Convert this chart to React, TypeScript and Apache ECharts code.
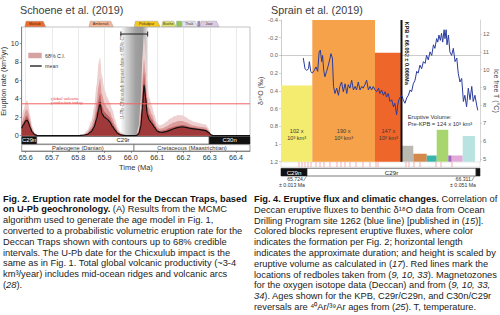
import React, { useEffect, useRef } from "react";
import * as echarts from "echarts";

const FONT = "'Liberation Sans', Arial, Helvetica, sans-serif";

// ---------------- Schoene et al. (2019) ----------------
const schoeneTime = [65.585, 65.592, 65.6, 65.605, 65.61, 65.617, 65.625, 65.635, 65.645, 65.66, 65.8, 65.82, 65.835, 65.85, 65.86, 65.87, 65.877, 65.883, 65.89, 65.9, 65.91, 65.92, 65.93, 65.94, 65.95, 65.96, 65.975, 65.99, 66.02, 66.03, 66.038, 66.044, 66.05, 66.056, 66.062, 66.07, 66.08, 66.09, 66.1, 66.11, 66.12, 66.135, 66.15, 66.165, 66.18, 66.195, 66.21, 66.225, 66.24, 66.255, 66.27, 66.285, 66.295, 66.305, 66.315, 66.33, 66.453];
const meanRate = [0.8, 1.2, 1.6, 1.7, 1.5, 0.9, 0.4, 0.1, 0.02, 0, 0, 0.05, 0.15, 0.45, 0.9, 1.8, 2.8, 3.6, 2.4, 2.0, 1.8, 1.5, 1.0, 0.6, 0.25, 0.1, 0.03, 0, 0, 0.2, 1.0, 3.0, 5.5, 4.2, 2.3, 1.7, 1.3, 0.9, 0.5, 0.38, 0.37, 0.45, 0.6, 0.78, 0.9, 0.95, 0.9, 0.8, 0.74, 0.68, 0.62, 0.55, 0.35, 0.08, 0, 0, 0];
const innerUpper = [1.0, 1.5, 2.0, 2.2, 1.9, 1.2, 0.5, 0.14, 0.02, 0, 0, 0.07, 0.22, 0.7, 1.3, 2.6, 3.8, 4.6, 3.2, 2.6, 2.3, 2.0, 1.4, 0.85, 0.38, 0.15, 0.05, 0, 0.01, 0.35, 1.6, 4.2, 6.8, 5.3, 3.1, 2.3, 1.75, 1.2, 0.7, 0.52, 0.55, 0.68, 0.85, 1.0, 1.1, 1.15, 1.08, 0.95, 0.88, 0.8, 0.75, 0.68, 0.45, 0.1, 0, 0, 0];
const midUpper = [1.3, 2.0, 2.7, 2.9, 2.5, 1.6, 0.7, 0.2, 0.03, 0, 0, 0.1, 0.35, 1.0, 1.9, 3.6, 5.3, 6.2, 4.5, 3.5, 3.0, 2.6, 1.9, 1.2, 0.55, 0.25, 0.08, 0.01, 0.02, 0.6, 2.5, 6.0, 8.3, 6.8, 4.2, 3.0, 2.3, 1.6, 0.95, 0.75, 0.8, 1.0, 1.25, 1.45, 1.6, 1.6, 1.45, 1.25, 1.1, 1.0, 0.95, 0.88, 0.6, 0.14, 0.01, 0, 0];
const outerUpper = [1.8, 2.8, 3.6, 3.85, 3.4, 2.2, 1.0, 0.3, 0.05, 0, 0, 0.2, 0.6, 1.6, 3.0, 5.5, 7.8, 8.5, 6.5, 5.0, 4.2, 3.6, 2.8, 1.8, 0.9, 0.4, 0.15, 0.02, 0.05, 1.0, 4.0, 8.5, 10.8, 9.0, 6.0, 4.2, 3.2, 2.2, 1.4, 1.1, 1.2, 1.5, 1.85, 2.1, 2.25, 2.2, 2.0, 1.7, 1.5, 1.4, 1.3, 1.2, 0.8, 0.2, 0.02, 0, 0];
const schoeneTicks = [65.6, 65.7, 65.8, 65.9, 66.0, 66.1, 66.2, 66.3, 66.4];
const rateTicks = [0, 2, 4, 6, 8, 10];
const schoeneMin = 65.585;
const schoeneMax = 66.453;
const rateMax = 11.76;
const globalVolcanicRate = 3.45;
const impactDate = 66.013;
const impactCI = 0.051;
const impactBarLevel = 11.0;
const chronNamesA = ["C29n", "C29r", "C30n"];
const chronStartA = [65.585, 65.642, 66.298];
const chronEndA = [65.642, 66.298, 66.453];
const periodNames = ["Paleogene (Danian)", "Cretaceous (Maastrichtian)"];
const periodStart = [65.585, 66.012];
const periodEnd = [66.012, 66.453];
const formationNames = ["Mahab", "Ambenali", "Poladpur", "Bushe", "", "Thak", "", "Jaw"];
const formationStart = [65.597, 65.841, 66.013, 66.117, 66.174, 66.193, 66.254, 66.263];
const formationEnd = [65.676, 65.933, 66.111, 66.172, 66.193, 66.254, 66.263, 66.335];
const formationColors = ["#ee6b2c", "#f6b595", "#f5c81e", "#dce36a", "#8cc653", "#e6e2ea", "#a585c0", "#dccbe4"];

// ---------------- Sprain et al. (2019) ----------------
const sprainMin = 65.6336;
const sprainMax = 66.3246;
const d18OTime = [65.711, 65.717, 65.723, 65.729, 65.732, 65.737, 65.742, 65.749, 65.755, 65.761, 65.766, 65.770, 65.775, 65.778, 65.782, 65.786, 65.792, 65.798, 65.804, 65.807, 65.812, 65.816, 65.821, 65.827, 65.833, 65.838, 65.844, 65.850, 65.856, 65.862, 65.867, 65.873, 65.879, 65.885, 65.891, 65.896, 65.902, 65.908, 65.914, 65.919, 65.925, 65.931, 65.937, 65.943, 65.948, 65.954, 65.960, 65.966, 65.972, 65.977, 65.983, 65.989, 65.995, 66.000, 66.006, 66.012, 66.018, 66.024, 66.029, 66.035, 66.039, 66.043, 66.048, 66.053, 66.058, 66.064, 66.070, 66.076, 66.082, 66.087, 66.093, 66.099, 66.105, 66.110, 66.116, 66.122, 66.128, 66.134, 66.139, 66.145, 66.151, 66.157, 66.163, 66.168, 66.174, 66.178, 66.182, 66.187, 66.191, 66.195, 66.200, 66.203, 66.207, 66.210, 66.215, 66.220, 66.226, 66.232, 66.238, 66.244, 66.249, 66.255, 66.261, 66.267, 66.272, 66.278, 66.284, 66.290, 66.296, 66.301, 66.307, 66.313, 66.317];
const d18OValue = [0.03, 0.15, 0.17, 0.15, 0.07, 0.18, 0.20, 0.17, 0.13, 0.18, -0.04, -0.06, 0.07, 0.00, 0.17, 0.24, 0.18, 0.11, 0.03, -0.02, 0.03, 0.35, 0.43, 0.37, 0.45, 0.35, 0.30, 0.41, 0.32, 0.43, 0.33, 0.37, 0.28, 0.39, 0.35, 0.39, 0.30, 0.39, 0.35, 0.37, 0.33, 0.28, 0.39, 0.35, 0.39, 0.35, 0.39, 0.41, 0.37, 0.43, 0.39, 0.45, 0.41, 0.47, 0.43, 0.52, 0.50, 0.58, 0.54, 0.67, 0.56, 0.50, 0.47, 0.45, 0.50, 0.54, 0.48, 0.45, 0.39, 0.41, 0.32, 0.28, 0.18, 0.20, 0.11, 0.15, 0.07, 0.09, 0.00, 0.05, -0.04, 0.00, -0.12, -0.08, -0.19, -0.15, -0.23, -0.17, -0.25, -0.15, -0.29, -0.19, -0.29, -0.12, -0.23, -0.04, 0.00, -0.08, 0.07, 0.03, 0.20, 0.30, 0.26, 0.52, 0.45, 0.58, 0.37, 0.50, 0.35, 0.52, 0.45, 0.56, 0.62];
const d18OMin = -0.4;
const d18OMax = 1.2;
const tempMin = 4.85;
const tempMax = 12.78;
const tempTicks = [5, 6, 7, 8, 9, 10, 11, 12];
const blockStart = [65.6336, 65.7423, 65.960, 66.0527, 66.093, 66.1395, 66.1742, 66.2145, 66.2263, 66.2645];
const blockEnd = [65.7423, 65.960, 66.0527, 66.093, 66.1395, 66.1742, 66.2145, 66.2263, 66.2645, 66.3072];
const blockTop = [0.34, -0.4, -0.03, 1.02, 1.11, 1.13, 0.84, 1.13, 1.13, 0.91];
const blockColors = ["#f3ec6e", "#f6a24a", "#ee6629", "#b9b9b1", "#d4894b", "#3bb2aa", "#a8d56e", "#9c66be", "#e2a9d9", "#b8e3e1"];
const blockLabels = ["102 x\n10³ km³", "190 x\n10³ km³", "147 x\n10³ km³", "", "", "", "", "", "", ""];
const blockLabelLevel = 0.89;
const kpbAge = 66.052;
const redboleAge = [65.6961, 65.7065, 65.7169, 65.7274, 65.7378, 65.7551, 65.769, 65.7829, 65.8037, 65.828, 65.8419, 65.8558, 65.8732, 65.894, 65.9183, 65.9426, 65.9635, 65.9704, 66.0676, 66.078, 66.0954, 66.1162, 66.1718, 66.1892, 66.2274];
const chronNamesB = ["C29n", "C29r", "C30n"];
const chronStartB = [65.6336, 65.724, 66.311];
const chronEndB = [65.724, 66.311, 66.3246];

const captionLeft = [
  "{b|Fig. 2. Eruption rate model for the Deccan Traps, based}",
  "{b|on U-Pb geochronology.} (A) Results from the MCMC",
  "algorithm used to generate the age model in Fig. 1,",
  "converted to a probabilistic volumetric eruption rate for the",
  "Deccan Traps shown with contours up to 68% credible",
  "intervals. The U-Pb date for the Chicxulub impact is the",
  "same as in Fig. 1. Total global volcanic productivity (~3-4",
  "km³/year) includes mid-ocean ridges and volcanic arcs",
  "({i|28}).",
];
const captionRight = [
  "{b|Fig. 4. Eruptive flux and climatic changes.} Correlation of",
  "Deccan eruptive fluxes to benthic δ¹⁸O data from Ocean",
  "Drilling Program site 1262 (blue line) [published in ({i|15})].",
  "Colored blocks represent eruptive fluxes, where color",
  "indicates the formation per Fig. 2; horizontal length",
  "indicates the approximate duration; and height is scaled by",
  "eruptive volume as calculated in ({i|17}). Red lines mark the",
  "locations of redboles taken from ({i|9, 10, 33}). Magnetozones",
  "for the oxygen isotope data (Deccan) and from ({i|9, 10, 33,}",
  "{i|34}). Ages shown for the KPB, C29r/C29n, and C30n/C29r",
  "reversals are ⁴⁰Ar/³⁹Ar ages from ({i|25}). T, temperature.",
];

function pairs(xs: number[], ys: number[]) {
  return xs.map((x, i) => [x, ys[i]]);
}

function captionText(lines: string[], x: number, y: number) {
  const base = { fontFamily: FONT, fontSize: 9.3, lineHeight: 10.8, fill: "#222" };
  return {
    type: "text",
    x,
    y,
    silent: true,
    style: {
      text: lines.join("\n"),
      ...base,
      textAlign: "left",
      textVerticalAlign: "top",
      rich: {
        b: { ...base, fontWeight: "bold", fill: "#111" },
        i: { ...base, fontStyle: "italic" },
      },
    },
  };
}

function txt(text: string, x: number, y: number, size: number, extra: any = {}) {
  const { rotation, ...styleExtra } = extra;
  return {
    type: "text",
    x,
    y,
    rotation: rotation || 0,
    silent: true,
    style: {
      text,
      fontFamily: FONT,
      fontSize: size,
      fill: "#333",
      textAlign: "left",
      textVerticalAlign: "middle",
      ...styleExtra,
    },
  };
}

function buildOption(): any {
  const hiddenX = (gridIndex: number, min: number, max: number) => ({
    type: "value", gridIndex, min, max,
    axisLine: { show: false }, axisTick: { show: false }, axisLabel: { show: false }, splitLine: { show: false },
  });
  const hiddenY = (gridIndex: number) => ({
    type: "value", gridIndex, min: 0, max: 1,
    axisLine: { show: false }, axisTick: { show: false }, axisLabel: { show: false }, splitLine: { show: false },
  });

  const grayGradient = new echarts.graphic.LinearGradient(0, 0, 1, 0, [
    { offset: 0, color: "rgba(235,235,235,0.4)" },
    { offset: 0.2, color: "rgba(200,200,200,0.8)" },
    { offset: 0.55, color: "rgba(150,150,150,0.9)" },
    { offset: 0.8, color: "rgba(140,140,140,0.9)" },
    { offset: 1, color: "rgba(200,200,200,0.6)" },
  ]);

  const areaSeries = (name: string, data: number[], color: string, z: number) => ({
    name, type: "line", xAxisIndex: 0, yAxisIndex: 0,
    data: pairs(schoeneTime, data), smooth: 0.25, smoothMonotone: "x",
    symbol: "none", lineStyle: { width: 0 }, areaStyle: { color, opacity: 1 }, z, silent: true,
  });

  return {
    animation: false,
    backgroundColor: "#ffffff",
    textStyle: { fontFamily: FONT },
    grid: [
      { left: 21.7, top: 27, width: 228.3, height: 108.7, show: true, borderColor: "#9a9a9a", borderWidth: 0.6, backgroundColor: "#fff", outerBoundsMode: "none" },
      { left: 21.7, top: 136.5, width: 228.3, height: 7.6, outerBoundsMode: "none" },
      { left: 21.7, top: 144.6, width: 228.3, height: 6.4, outerBoundsMode: "none" },
      { left: 281, top: 20, width: 199, height: 141.7, outerBoundsMode: "none" },
      { left: 281, top: 162, width: 199, height: 5, show: true, borderColor: "#cfcfcf", borderWidth: 0.5, outerBoundsMode: "none" },
      { left: 281, top: 168.3, width: 199, height: 7.7, outerBoundsMode: "none" },
    ],
    xAxis: [
      {
        type: "value", gridIndex: 0, min: schoeneMin, max: schoeneMax,
        axisLine: { show: false },
        axisTick: { show: false, customValues: schoeneTicks },
        axisLabel: { show: false, customValues: schoeneTicks },
        splitLine: { show: true, lineStyle: { color: "#dddddd", width: 0.6 } },
      },
      hiddenX(1, schoeneMin, schoeneMax),
      {
        type: "value", gridIndex: 2, min: schoeneMin, max: schoeneMax,
        axisLine: { show: true, lineStyle: { color: "#555", width: 0.6 } },
        axisTick: { show: true, length: 2, customValues: schoeneTicks, lineStyle: { color: "#555", width: 0.6 } },
        axisLabel: { show: true, customValues: schoeneTicks, fontSize: 7.2, color: "#333", margin: 3, fontFamily: FONT, formatter: (v: number) => v.toFixed(1) },
        splitLine: { show: false },
        name: "Time (Ma)", nameLocation: "middle", nameGap: 12,
        nameTextStyle: { fontSize: 7.5, color: "#333", fontFamily: FONT },
      },
      {
        type: "value", gridIndex: 3, min: sprainMin, max: sprainMax,
        axisLine: { show: true, lineStyle: { color: "#aaa", width: 0.6 } },
        axisTick: { show: false }, axisLabel: { show: false }, splitLine: { show: false },
      },
      hiddenX(4, sprainMin, sprainMax),
      hiddenX(5, sprainMin, sprainMax),
    ],
    yAxis: [
      {
        type: "value", gridIndex: 0, min: 0, max: rateMax,
        axisLine: { show: true, lineStyle: { color: "#555", width: 0.6 } },
        axisTick: { show: true, length: 2, customValues: rateTicks, lineStyle: { color: "#555", width: 0.6 } },
        axisLabel: { show: true, customValues: rateTicks, fontSize: 7.2, color: "#333", margin: 3, fontFamily: FONT },
        splitLine: { show: false },
        name: "Eruption rate (km³/yr)", nameLocation: "middle", nameRotate: 90, nameGap: 10,
        nameTextStyle: { fontSize: 7.3, color: "#333", fontFamily: FONT },
      },
      hiddenY(1),
      hiddenY(2),
      {
        type: "value", gridIndex: 3, min: d18OMin, max: d18OMax, interval: 0.2, inverse: true, position: "left",
        axisLine: { show: true, lineStyle: { color: "#aaa", width: 0.6 } },
        axisTick: { show: true, length: 2, inside: false, lineStyle: { color: "#aaa", width: 0.5 } },
        axisLabel: {
          show: true, fontSize: 5.8, color: "#666", margin: 3, fontFamily: FONT,
          formatter: (v: number) => { const r = Math.round(v * 10) / 10; return r === 1 ? "1" : r.toFixed(1); },
        },
        splitLine: { show: false },
        name: "δ¹⁸O (‰)", nameLocation: "middle", nameRotate: 90, nameGap: 17,
        nameTextStyle: { fontSize: 7, color: "#444", fontFamily: FONT },
      },
      {
        type: "value", gridIndex: 3, min: tempMin, max: tempMax, position: "right",
        axisLine: { show: true, lineStyle: { color: "#bbb", width: 0.6 } },
        axisTick: { show: true, length: 2, customValues: tempTicks, lineStyle: { color: "#bbb", width: 0.5 } },
        axisLabel: { show: true, customValues: tempTicks, fontSize: 5.8, color: "#666", margin: 3, fontFamily: FONT },
        splitLine: { show: false },
        name: "Ice free T (°C)", nameLocation: "middle", nameRotate: -90, nameGap: 11,
        nameTextStyle: { fontSize: 7, color: "#444", fontFamily: FONT },
      },
      hiddenY(4),
      hiddenY(5),
    ],
    series: [
      // Chicxulub impact date band
      {
        type: "custom", xAxisIndex: 0, yAxisIndex: 0, z: 1, silent: true,
        data: [[impactDate - impactCI, impactDate + impactCI, 0]],
        encode: { x: [0, 1], y: 2 },
        renderItem: (params: any, api: any) => {
          const cs = params.coordSys;
          const x0 = api.coord([impactDate - impactCI, 0])[0];
          const x1 = api.coord([impactDate + impactCI, 0])[0];
          return { type: "rect", shape: { x: x0, y: cs.y, width: x1 - x0, height: cs.height }, style: { fill: grayGradient } };
        },
      },
      areaSeries("outer", outerUpper, "#efd0d0", 2),
      areaSeries("mid", midUpper, "#dc9c9c", 3),
      areaSeries("inner", innerUpper, "#c06262", 4),
      {
        name: "mean", type: "line", xAxisIndex: 0, yAxisIndex: 0, z: 5, silent: true,
        data: pairs(schoeneTime, meanRate), smooth: 0.25, smoothMonotone: "x", symbol: "none",
        lineStyle: { color: "#111", width: 1.2 }, areaStyle: { color: "#a03a3a", opacity: 1 },
      },
      {
        name: "global", type: "line", xAxisIndex: 0, yAxisIndex: 0, z: 8, silent: true,
        data: [[schoeneMin, globalVolcanicRate], [schoeneMax, globalVolcanicRate]],
        symbol: "none", lineStyle: { color: "#f26262", width: 1 },
      },
      // error bar of the impact date
      {
        type: "custom", xAxisIndex: 0, yAxisIndex: 0, z: 9, silent: true,
        data: [[impactDate - impactCI, impactDate + impactCI, impactBarLevel]],
        encode: { x: [0, 1], y: 2 },
        renderItem: (params: any, api: any) => {
          const a = api.coord([impactDate - impactCI, impactBarLevel]);
          const b = api.coord([impactDate + impactCI, impactBarLevel]);
          const ls = { stroke: "#222", lineWidth: 1 };
          return {
            type: "group", children: [
              { type: "line", shape: { x1: a[0], y1: a[1], x2: b[0], y2: b[1] }, style: ls },
              { type: "line", shape: { x1: a[0], y1: a[1] - 2.5, x2: a[0], y2: a[1] + 2.5 }, style: ls },
              { type: "line", shape: { x1: b[0], y1: b[1] - 2.5, x2: b[0], y2: b[1] + 2.5 }, style: ls },
            ],
          };
        },
      },
      // formation tabs above the plot
      {
        type: "custom", xAxisIndex: 0, yAxisIndex: 0, z: 9, silent: true, clip: false,
        data: formationStart.map((s, i) => [s, formationEnd[i], 0]),
        encode: { x: [0, 1], y: 2 },
        renderItem: (params: any, api: any) => {
          const i = params.dataIndex;
          const cs = params.coordSys;
          const x0 = api.coord([formationStart[i], 0])[0];
          const x1 = api.coord([formationEnd[i], 0])[0];
          const yb = cs.y - 0.3;
          const yt = cs.y - 5.8;
          const named = formationNames[i] !== "";
          const pts = named
            ? [[x0, yb], [x0 + 1.2, yt], [x1 - 2.5, yt], [x1, yb]]
            : [[x0, yb], [x0, yt], [x1, yt], [x1, yb]];
          const children: any[] = [
            { type: "polygon", shape: { points: pts }, style: { fill: formationColors[i], stroke: "#8a8a8a", lineWidth: 0.4 } },
          ];
          if (named) {
            children.push({
              type: "text", x: (x0 + x1) / 2 - 0.5, y: (yb + yt) / 2,
              style: { text: formationNames[i], fill: "#4a3020", fontSize: 3.8, fontFamily: FONT, textAlign: "center", textVerticalAlign: "middle" },
            });
          }
          return { type: "group", children };
        },
      },
      // magnetochrons (Schoene)
      {
        type: "custom", xAxisIndex: 1, yAxisIndex: 1, silent: true,
        data: chronStartA.map((s, i) => [s, chronEndA[i], 0.5]),
        encode: { x: [0, 1], y: 2 },
        renderItem: (params: any, api: any) => {
          const i = params.dataIndex;
          const cs = params.coordSys;
          const x0 = api.coord([chronStartA[i], 0])[0];
          const x1 = api.coord([chronEndA[i], 0])[0];
          const dark = chronNamesA[i].endsWith("n");
          return {
            type: "group", children: [
              { type: "rect", shape: { x: x0, y: cs.y, width: x1 - x0, height: cs.height }, style: { fill: dark ? "#111" : "#fff", stroke: "#222", lineWidth: 0.6 } },
              { type: "text", x: (x0 + x1) / 2, y: cs.y + cs.height / 2, style: { text: chronNamesA[i], fill: dark ? "#fff" : "#222", fontSize: 6, fontFamily: FONT, textAlign: "center", textVerticalAlign: "middle" } },
            ],
          };
        },
      },
      // periods (Schoene)
      {
        type: "custom", xAxisIndex: 2, yAxisIndex: 2, silent: true,
        data: periodStart.map((s, i) => [s, periodEnd[i], 0.5]),
        encode: { x: [0, 1], y: 2 },
        renderItem: (params: any, api: any) => {
          const i = params.dataIndex;
          const cs = params.coordSys;
          const x0 = api.coord([periodStart[i], 0])[0];
          const x1 = api.coord([periodEnd[i], 0])[0];
          return {
            type: "group", children: [
              { type: "rect", shape: { x: x0, y: cs.y, width: x1 - x0, height: cs.height }, style: { fill: "#fff", stroke: "#555", lineWidth: 0.6 } },
              { type: "text", x: (x0 + x1) / 2, y: cs.y + cs.height / 2, style: { text: periodNames[i], fill: "#333", fontSize: 5.8, fontFamily: FONT, textAlign: "center", textVerticalAlign: "middle" } },
            ],
          };
        },
      },
      // eruptive flux blocks (Sprain)
      {
        type: "custom", xAxisIndex: 3, yAxisIndex: 3, z: 1, silent: true,
        data: blockStart.map((s, i) => [s, blockEnd[i], blockTop[i]]),
        encode: { x: [0, 1], y: 2 },
        renderItem: (params: any, api: any) => {
          const i = params.dataIndex;
          const a = api.coord([blockStart[i], blockTop[i]]);
          const b = api.coord([blockEnd[i], d18OMax]);
          const children: any[] = [
            { type: "rect", shape: { x: a[0], y: Math.min(a[1], b[1]), width: b[0] - a[0], height: Math.abs(b[1] - a[1]) }, style: { fill: blockColors[i] } },
          ];
          if (blockLabels[i]) {
            const c = api.coord([(blockStart[i] + blockEnd[i]) / 2, blockLabelLevel]);
            children.push({
              type: "text", x: c[0], y: c[1],
              style: { text: blockLabels[i], fill: "#3a3a3a", fontSize: 5.6, lineHeight: 7, fontFamily: FONT, textAlign: "center", textVerticalAlign: "middle" },
            });
          }
          return { type: "group", children };
        },
      },
      {
        name: "KPB", type: "line", xAxisIndex: 3, yAxisIndex: 3, z: 3, silent: true,
        data: [[kpbAge, d18OMin], [kpbAge, d18OMax]], symbol: "none",
        lineStyle: { color: "#111", width: 2 },
      },
      {
        name: "d18O", type: "line", xAxisIndex: 3, yAxisIndex: 3, z: 4, silent: true,
        data: pairs(d18OTime, d18OValue), symbol: "none",
        lineStyle: { color: "#2b3c9c", width: 1 },
      },
      // redboles
      {
        type: "custom", xAxisIndex: 4, yAxisIndex: 5, silent: true,
        data: redboleAge.map((a) => [a, 0.5]),
        encode: { x: 0, y: 1 },
        renderItem: (params: any, api: any) => {
          const cs = params.coordSys;
          const x = api.coord([redboleAge[params.dataIndex], 0])[0];
          return { type: "line", shape: { x1: x, y1: cs.y, x2: x, y2: cs.y + cs.height }, style: { stroke: "#ee7b7b", lineWidth: 0.6 } };
        },
      },
      // magnetochrons (Sprain)
      {
        type: "custom", xAxisIndex: 5, yAxisIndex: 6, silent: true,
        data: chronStartB.map((s, i) => [s, chronEndB[i], 0.5]),
        encode: { x: [0, 1], y: 2 },
        renderItem: (params: any, api: any) => {
          const i = params.dataIndex;
          const cs = params.coordSys;
          const x0 = api.coord([chronStartB[i], 0])[0];
          const x1 = api.coord([chronEndB[i], 0])[0];
          const dark = chronNamesB[i].endsWith("n");
          const children: any[] = [
            { type: "rect", shape: { x: x0, y: cs.y, width: x1 - x0, height: cs.height }, style: { fill: dark ? "#111" : "#fff", stroke: "#222", lineWidth: 0.6 } },
          ];
          if (x1 - x0 > 15) {
            children.push({ type: "text", x: (x0 + x1) / 2, y: cs.y + cs.height / 2, style: { text: chronNamesB[i], fill: dark ? "#fff" : "#222", fontSize: 6.2, fontFamily: FONT, textAlign: "center", textVerticalAlign: "middle" } });
          }
          return { type: "group", children };
        },
      },
    ],
    graphic: [
      txt("Schoene et al. (2019)", 20, 9.5, 10.8, { fill: "#3d3d3d" }),
      txt("Sprain et al. (2019)", 271, 9.5, 10.8, { fill: "#3d3d3d" }),
      // legend
      { type: "rect", shape: { x: 28.3, y: 52.7, width: 13.4, height: 5.6 }, style: { fill: "#d7a2a2" }, silent: true },
      txt("68% C.I.", 45, 55.5, 5.3),
      { type: "line", shape: { x1: 30, y1: 66, x2: 41.7, y2: 66 }, style: { stroke: "#111", lineWidth: 1.3 }, silent: true },
      txt("mean", 45, 66, 5.3),
      txt("U-Pb Chicxulub impact date ± 95% C.I.", 121.8, 76, 5, { rotation: Math.PI / 2, textAlign: "center", fill: "#222" }),
      txt("global volcanic", 51, 98, 4.3, { fill: "#e84646" }),
      txt("production today", 51, 102.3, 4.3, { fill: "#e84646" }),
      // Sprain annotations
      txt("KPB = 66.052 ± 0.008Ma", 406.8, 21.5, 5.6, { rotation: -Math.PI / 2, fontWeight: "bold", fill: "#111" }),
      txt("Eruptive Volume:", 407.7, 117, 5.8),
      txt("Pre-KPB = 124 x 10³ km³", 407.7, 124, 5.8),
      txt("65.724", 303, 179.3, 5.2, { textAlign: "right" }),
      { type: "line", shape: { x1: 303.5, y1: 181, x2: 306.5, y2: 176.3 }, style: { stroke: "#333", lineWidth: 0.5 }, silent: true },
      txt("± 0.013 Ma", 305, 185.3, 5.2, { textAlign: "right" }),
      txt("66.311", 471, 179.3, 5.2, { textAlign: "right" }),
      { type: "line", shape: { x1: 471.5, y1: 181, x2: 474.5, y2: 176.3 }, style: { stroke: "#333", lineWidth: 0.5 }, silent: true },
      txt("± 0.051 Ma", 476, 185.3, 5.2, { textAlign: "right" }),
      captionText(captionLeft, 3, 193.3),
      captionText(captionRight, 254, 193.6),
    ],
  };
}

export default function App() {
  const ref = useRef<HTMLDivElement>(null);
  useEffect(() => {
    if (!ref.current) return;
    const chart = echarts.init(ref.current, undefined, { renderer: "svg" });
    chart.setOption(buildOption());
    return () => {
      chart.dispose();
    };
  }, []);
  return (
    <div
      ref={ref}
      style={{ position: "absolute", left: 0, top: 0, width: 500, height: 315, background: "#fff" }}
    />
  );
}
